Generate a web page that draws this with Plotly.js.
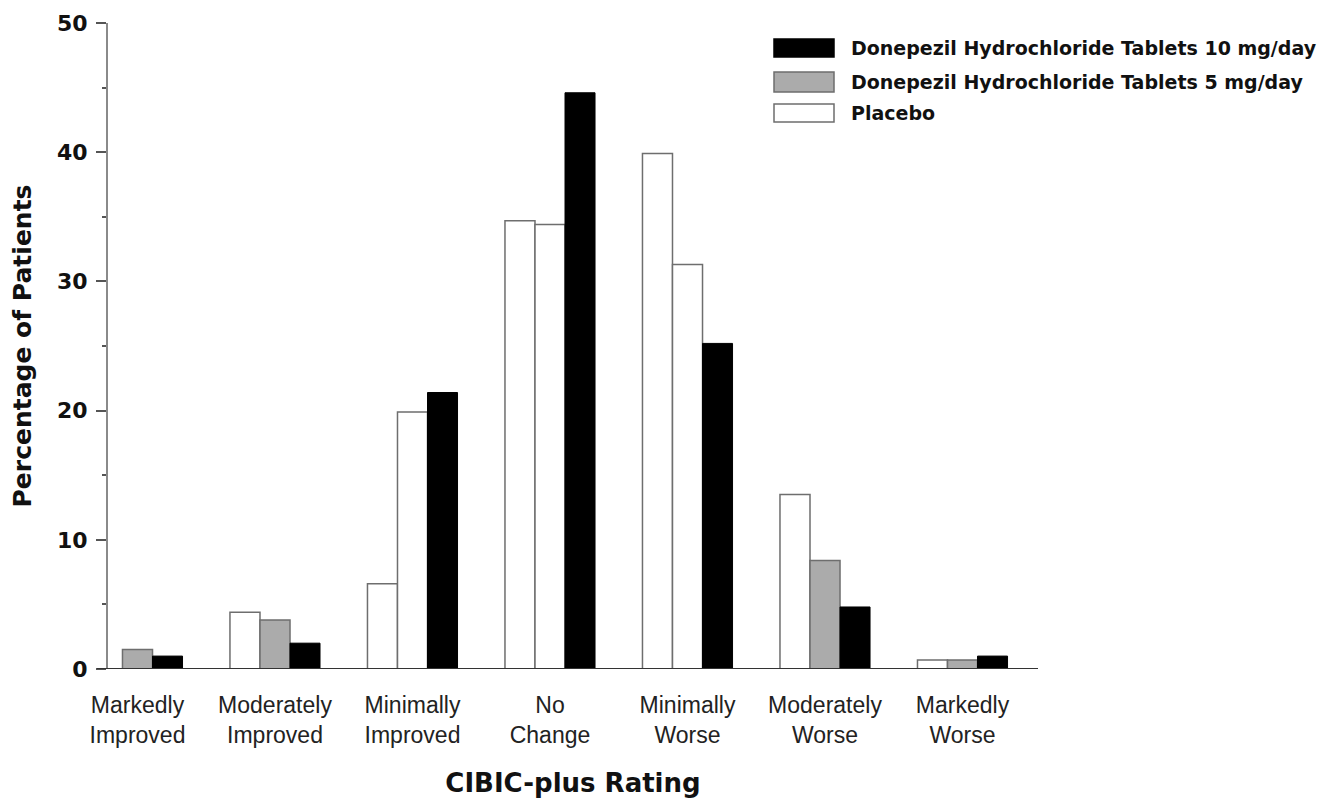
<!DOCTYPE html>
<html>
<head>
<meta charset="utf-8">
<script src="https://cdn.plot.ly/plotly-3.0.1.min.js"></script>
<style>
html,body{margin:0;padding:0;background:#fff;}
#chart{width:1334px;height:798px;}
</style>
</head>
<body>
<div id="chart"></div>
<script>
// ---- data ----
var categories = [
  "Markedly<br>Improved",
  "Moderately<br>Improved",
  "Minimally<br>Improved",
  "No<br>Change",
  "Minimally<br>Worse",
  "Moderately<br>Worse",
  "Markedly<br>Worse"
];
var seriesNames = [
  "Placebo",
  "Donepezil Hydrochloride Tablets 5 mg/day",
  "Donepezil Hydrochloride Tablets 10 mg/day"
];
var placeboValues = [0, 4.4, 6.6, 34.7, 39.9, 13.5, 0.7];
var dose5Values   = [1.5, 3.8, 19.9, 34.4, 31.3, 8.4, 0.7];
var dose10Values  = [1.0, 2.0, 21.4, 44.6, 25.2, 4.8, 1.0];
var yTickValues = [0, 10, 20, 30, 40, 50];

// ---- layout geometry (pixels) ----
var W = 1334, H = 798;
var L = 108, R = 1038, T = 23, B = 669;
function px(x){ return (x - L) / (R - L); }
function py(y){ return (B - y) / (B - T); }

var GRAY = '#ababab';
var EDGE = '#6e6e6e';

// 5 mg bars: the middle bars of the central groups are drawn unfilled in the reference
var dose5Fill = ['#ababab', '#ababab', '#ffffff', '#ffffff', '#ffffff', '#ababab', '#ababab'];

var traces = [
  {
    type: 'bar', name: seriesNames[0], x: categories, y: placeboValues,
    marker: {color: '#ffffff', line: {color: EDGE, width: 1.5}},
    showlegend: false, hoverinfo: 'x+y+name'
  },
  {
    type: 'bar', name: seriesNames[1], x: categories, y: dose5Values,
    marker: {color: dose5Fill, line: {color: EDGE, width: 1.5}},
    showlegend: false, hoverinfo: 'x+y+name'
  },
  {
    type: 'bar', name: seriesNames[2], x: categories, y: dose10Values,
    marker: {color: '#000000', line: {color: '#000000', width: 1}},
    showlegend: false, hoverinfo: 'x+y+name'
  }
];

var boldFont = 'DejaVu Sans, Liberation Sans, Arial, sans-serif';

// custom legend (large swatches like the reference)
var legendRows = [
  {name: seriesNames[2], fill: '#000000', line: '#000000', y0: 39, y1: 57},
  {name: seriesNames[1], fill: GRAY, line: EDGE, y0: 72, y1: 92},
  {name: seriesNames[0], fill: '#ffffff', line: EDGE, y0: 104, y1: 122}
];

var shapes = [
  // x baseline (extends slightly left of the y axis as in the reference)
  {type: 'line', xref: 'paper', yref: 'y', x0: px(97), x1: 1, y0: 0, y1: 0,
   line: {color: '#333333', width: 2}, layer: 'above'}
];
var annotations = [];
legendRows.forEach(function(r){
  shapes.push({type: 'rect', xref: 'paper', yref: 'paper',
    x0: px(774), x1: px(834), y0: py(r.y1), y1: py(r.y0),
    fillcolor: r.fill, line: {color: r.line, width: 1.5}});
  annotations.push({xref: 'paper', yref: 'paper', x: px(849), y: py((r.y0 + r.y1) / 2),
    xanchor: 'left', yanchor: 'middle', showarrow: false, text: r.name,
    font: {family: boldFont, size: 19, color: '#111111', weight: 'bold'}});
});

var layout = {
  width: W, height: H,
  margin: {l: L, r: W - R, t: T, b: H - B, pad: 0},
  paper_bgcolor: '#ffffff', plot_bgcolor: '#ffffff',
  barmode: 'group', bargap: 0.345, bargroupgap: 0,
  showlegend: false,
  xaxis: {
    type: 'category',
    range: [-0.2145, 6.549],
    showline: false, showgrid: false, zeroline: false,
    ticks: '', ticklabelstandoff: 20,
    tickfont: {family: 'Liberation Sans, Arial, sans-serif', size: 23, color: '#222222'},
    title: {text: 'CIBIC-plus Rating', standoff: 26,
      font: {family: boldFont, size: 26, color: '#111111', weight: 'bold'}},
    fixedrange: true, automargin: false
  },
  yaxis: {
    range: [0, 50],
    tickvals: yTickValues, ticktext: yTickValues.map(String),
    showline: true, linecolor: '#8a8a8a', linewidth: 2,
    showgrid: false, zeroline: false,
    ticks: 'outside', ticklen: 10, tickwidth: 2, tickcolor: '#555555',
    minor: {dtick: 5, tick0: 0, ticks: 'outside', ticklen: 4, tickwidth: 2, tickcolor: '#555555', showgrid: false},
    tickfont: {family: boldFont, size: 22, color: '#111111', weight: 'bold'},
    ticklabelstandoff: 4,
    title: {text: 'Percentage of Patients', standoff: 18,
      font: {family: boldFont, size: 25, color: '#111111', weight: 'bold'}},
    fixedrange: true, automargin: false
  },
  shapes: shapes,
  annotations: annotations
};

Plotly.newPlot('chart', traces, layout, {displayModeBar: false, staticPlot: true});
</script>
</body>
</html>
